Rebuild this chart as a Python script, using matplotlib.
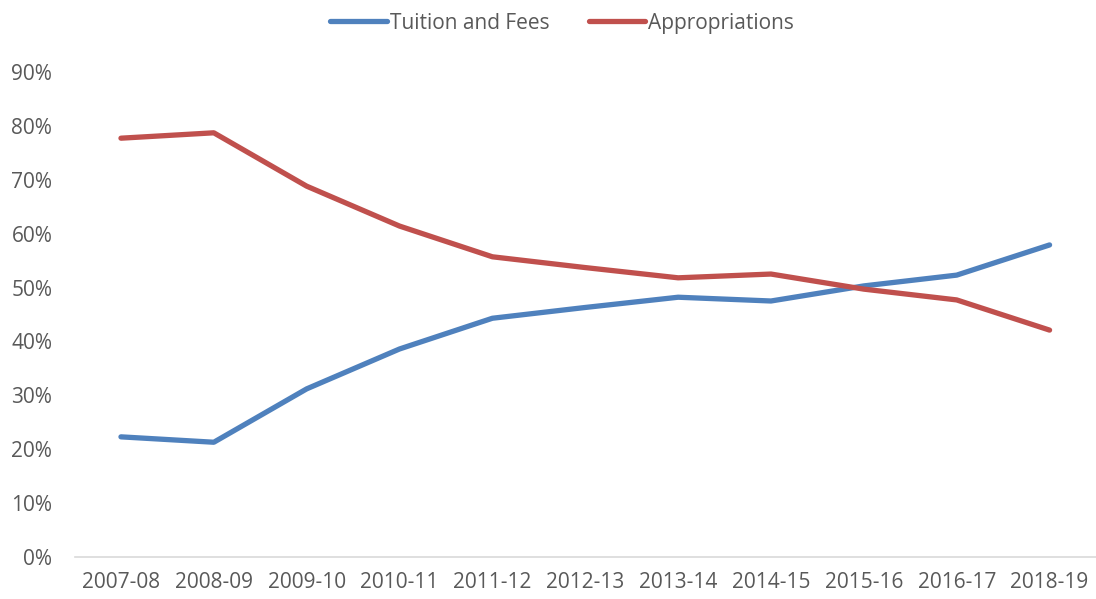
import matplotlib.pyplot as plt
from matplotlib.ticker import FuncFormatter

years = ["2007-08", "2008-09", "2009-10", "2010-11", "2011-12", "2012-13",
         "2013-14", "2014-15", "2015-16", "2016-17", "2018-19"]
tuition = [22.3, 21.3, 31.2, 38.6, 44.3, 46.3, 48.2, 47.5, 50.3, 52.3, 57.9]
appropriations = [77.7, 78.7, 68.8, 61.4, 55.7, 53.7, 51.8, 52.5, 49.7, 47.7, 42.1]

plt.rcParams['font.family'] = ['Open Sans', 'DejaVu Sans']

fig = plt.figure(figsize=(10.96, 5.99), dpi=100)
ax = fig.add_axes([0.068, 0.070, 0.932, 0.810])

x = list(range(len(years)))
ax.plot(x, tuition, color="#4F81BD", lw=3.8, solid_capstyle="round",
        solid_joinstyle="round", label="Tuition and Fees")
ax.plot(x, appropriations, color="#C0504D", lw=3.8, solid_capstyle="round",
        solid_joinstyle="round", label="Appropriations")

ax.set_xlim(-0.5, len(years) - 0.5)
ax.set_ylim(0, 90)
ax.set_yticks(range(0, 91, 10))
ax.yaxis.set_major_formatter(FuncFormatter(lambda v, p: f"{v:.0f}%"))
ax.set_xticks(x)
ax.set_xticklabels(years)
ax.tick_params(axis="both", length=0, labelsize=15, colors="#595959")
ax.tick_params(axis="y", pad=16)
ax.tick_params(axis="x", pad=11)

for side in ["top", "right", "left"]:
    ax.spines[side].set_visible(False)
ax.spines["bottom"].set_color("#D9D9D9")
ax.spines["bottom"].set_linewidth(1.2)

leg = fig.legend(loc="upper center", bbox_to_anchor=(0.513, 1.01), ncol=2,
                 frameon=False, fontsize=15, handlelength=2.7,
                 handletextpad=0.15, columnspacing=1.9)
for t in leg.get_texts():
    t.set_color("#595959")

fig.savefig("out.png", dpi=100)
